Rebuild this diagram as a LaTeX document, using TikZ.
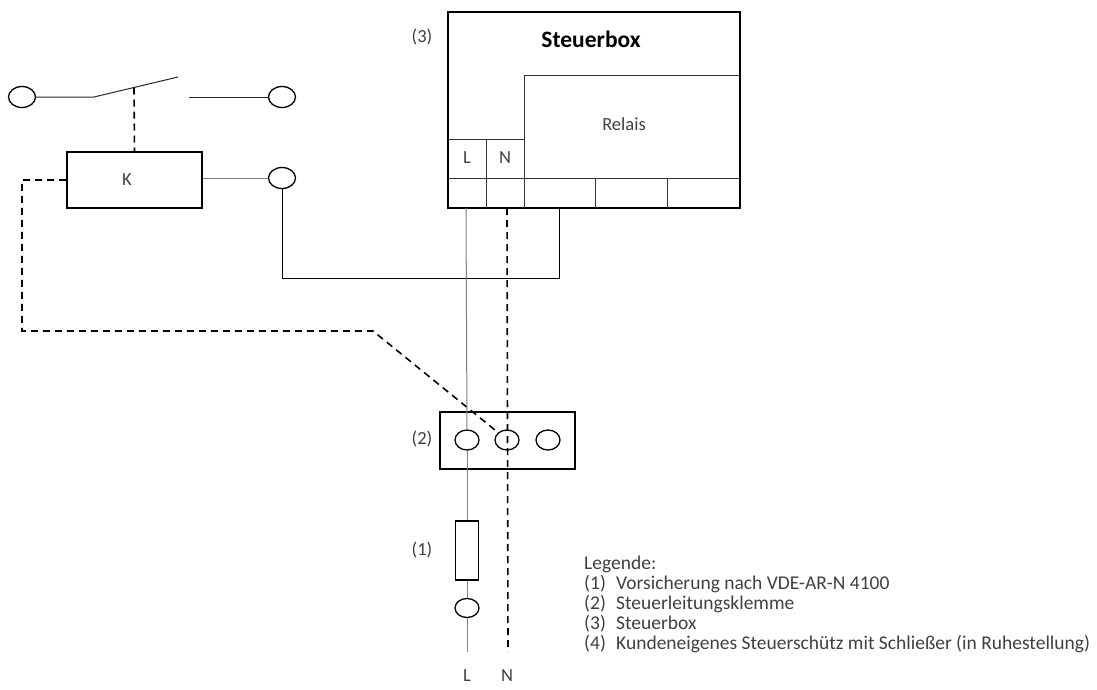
\documentclass[tikz,border=0pt]{standalone}
\usepackage{fontspec}
\usetikzlibrary{shapes.geometric}
\setmainfont{Carlito}
\definecolor{txt}{HTML}{404040}
\definecolor{wire}{HTML}{7F7F7F}
\begin{document}
\begin{tikzpicture}[x=1pt,y=-1pt,
  box/.style={draw=black,line width=1.6pt},
  cell/.style={draw=black!80,line width=0.8pt},
  gwire/.style={draw=wire,line width=1pt},
  bwire/.style={draw=black,line width=1pt},
  dwire/.style={draw=black,line width=1.6pt,dash pattern=on 7pt off 5pt},
  term/.style={draw=black,line width=1.3pt,ellipse,minimum width=27pt,minimum height=21pt,inner sep=0pt},
  lbl/.style={text=txt,font=\fontsize{18.5}{22}\selectfont,inner sep=0pt},
  leg/.style={text=txt,font=\fontsize{19.5}{22}\selectfont,inner sep=0pt,anchor=base west}]
\useasboundingbox (0,0) rectangle (1097,689);
% --- switch (4)
\node[term] (t1) at (22,97) {};
\node[term] (t2) at (282,97) {};
\coordinate (s1) at (94,97);
\coordinate (s2) at (178,77);
\coordinate (s3) at (189,97);
\coordinate (sm) at (134,87.5);
\draw[gwire,draw=black!85] (t1.east) -- (s1) -- (s2);
\draw[gwire,draw=black!85] (s3) -- (t2.west);
% --- K box
\node[box,draw,minimum width=135pt,minimum height=56pt,inner sep=0pt] (K) at (134.5,180) {};
\node[lbl] (Kt) at (127,180) {K};
\draw[dwire] (sm) -- (K.north);
\node[term] (t3) at (282,178) {};
\draw[gwire] (K.east |- t3) -- (t3.west);
% --- Steuerbox (3)
\draw[box] (448,12) rectangle (740,208);
\node[font=\bfseries\fontsize{23.5}{26}\selectfont,inner sep=0pt] (sbt) at (591,39) {Steuerbox};
\node[lbl] (n3) at (422,37) {(3)};
\draw[cell] (524,75) -- (740,75);
\draw[cell] (524,75) -- (524,208);
\draw[cell] (448,139) -- (524,139);
\draw[cell] (486,139) -- (486,208);
\draw[cell] (448,178) -- (740,178);
\draw[cell] (595,178) -- (595,208);
\draw[cell] (667,178) -- (667,208);
\node[lbl] (relais) at (624,124) {Relais};
\node[lbl] (Lt) at (467,158) {L};
\node[lbl] (Nt) at (505,158) {N};
\coordinate (bL) at (466,208);
\coordinate (bN) at (507,208);
\coordinate (bR) at (559,208);
% --- Klemme (2)
\draw[box] (440,412) rectangle (575,469);
\node[lbl] (n2) at (422,439) {(2)};
\node[term,minimum width=24pt,minimum height=20pt] (k1) at (467,440) {};
\node[term,minimum width=24pt,minimum height=20pt] (k2) at (507,440) {};
\node[term,minimum width=24pt,minimum height=20pt] (k3) at (548,440) {};
% --- wiring relay to switch terminal
\coordinate (w1) at (282,278);
\coordinate (w2) at (559,278);
\draw[bwire,line width=0.9pt] (t3.south) -- (w1) -- (w2) -- (bR);
% --- dashed control from K
\coordinate (d1) at (22,180);
\coordinate (d2) at (22,331);
\coordinate (d3) at (373,331);
\draw[dwire] (K.west) -- (d1) -- (d2) -- (d3) -- (k2.north west);
% --- fuse (1)
\node[draw=black,line width=1.3pt,minimum width=23pt,minimum height=59pt,inner sep=0pt] (fuse) at (467,550.5) {};
\node[lbl] (n1) at (422,550) {(1)};
\node[term,minimum width=24pt,minimum height=19pt] (k4) at (467,608) {};
\coordinate (eL) at (467,652);
\coordinate (eN) at (508,652);
\draw[gwire] (bL) -- (k1.north);
\draw[gwire] (k1.south) -- (fuse.north);
\draw[gwire] (fuse.south) -- (k4.north);
\draw[gwire] (k4.south) -- (eL);
\draw[dwire] (bN) -- (eN);
\node[lbl] (Lb) at (467,676) {L};
\node[lbl] (Nb) at (507,676) {N};
% --- legend
\node[leg] (lg0) at (584,569) {Legende:};
\node[leg] (lg1a) at (584,589) {(1)};
\node[leg] (lg1) at (616,589) {Vorsicherung nach VDE-AR-N 4100};
\node[leg] (lg2a) at (584,609) {(2)};
\node[leg] (lg2) at (616,609) {Steuerleitungsklemme};
\node[leg] (lg3a) at (584,629) {(3)};
\node[leg] (lg3) at (616,629) {Steuerbox};
\node[leg] (lg4a) at (584,649) {(4)};
\node[leg] (lg4) at (616,649) {Kundeneigenes Steuerschütz mit Schließer (in Ruhestellung)};
\end{tikzpicture}
\end{document}
